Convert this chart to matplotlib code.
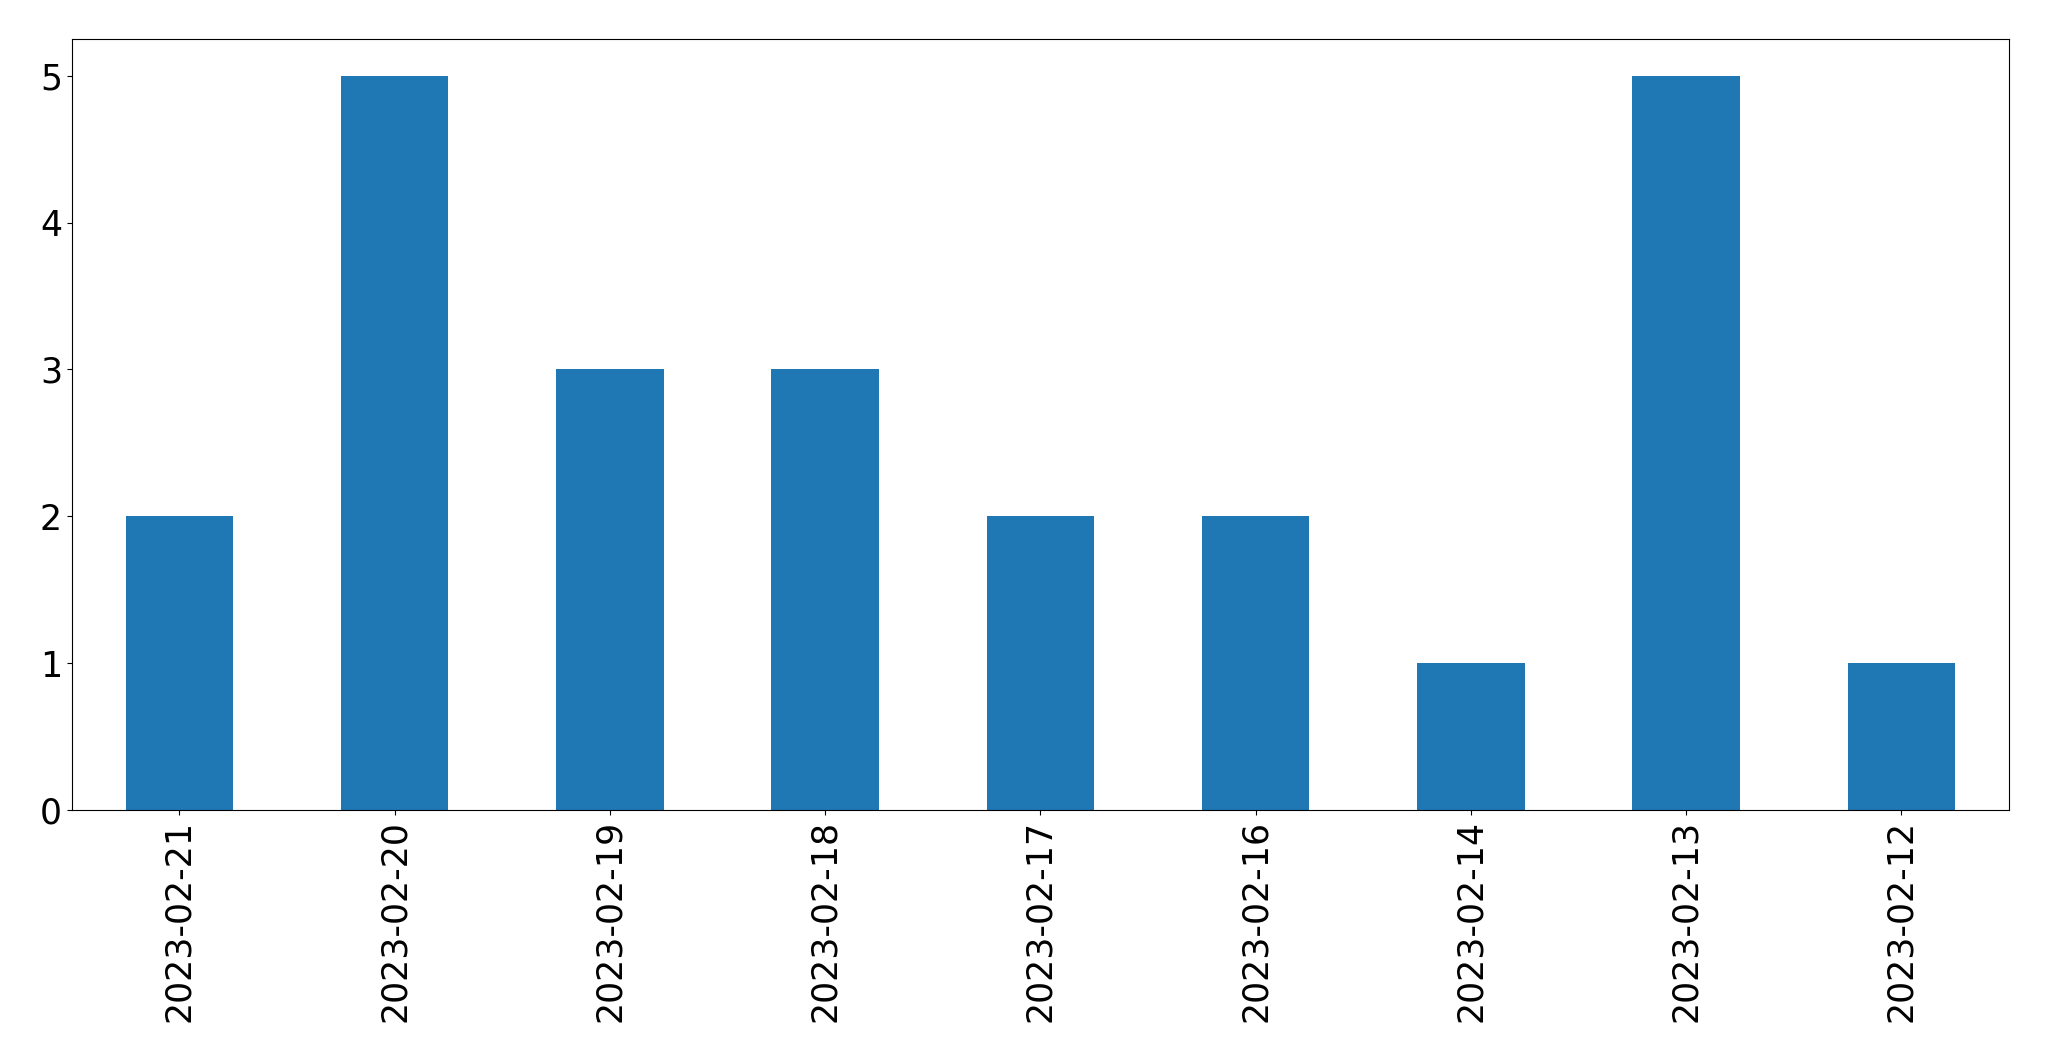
import matplotlib
matplotlib.use("Agg")
import matplotlib.pyplot as plt
import numpy as np

# dates and counts, in the order shown
dates = ["2023-02-21", "2023-02-20", "2023-02-19", "2023-02-18", "2023-02-17",
         "2023-02-16", "2023-02-14", "2023-02-13", "2023-02-12"]
counts = [2, 5, 3, 3, 2, 2, 1, 5, 1]

fig = plt.figure(figsize=(20.49, 10.61), dpi=100)
ax = fig.add_axes([0.035, 0.2366, 0.9455, 0.7266])

x = np.arange(len(dates))
ax.bar(x, counts, width=0.5, color="#1f77b4")
ax.set_xlim(-0.5, len(dates) - 0.5)
ax.set_xticks(x)
ax.set_xticklabels(dates, rotation=90)
ax.tick_params(axis="both", labelsize=25)

fig.savefig("out.png", dpi=100)
